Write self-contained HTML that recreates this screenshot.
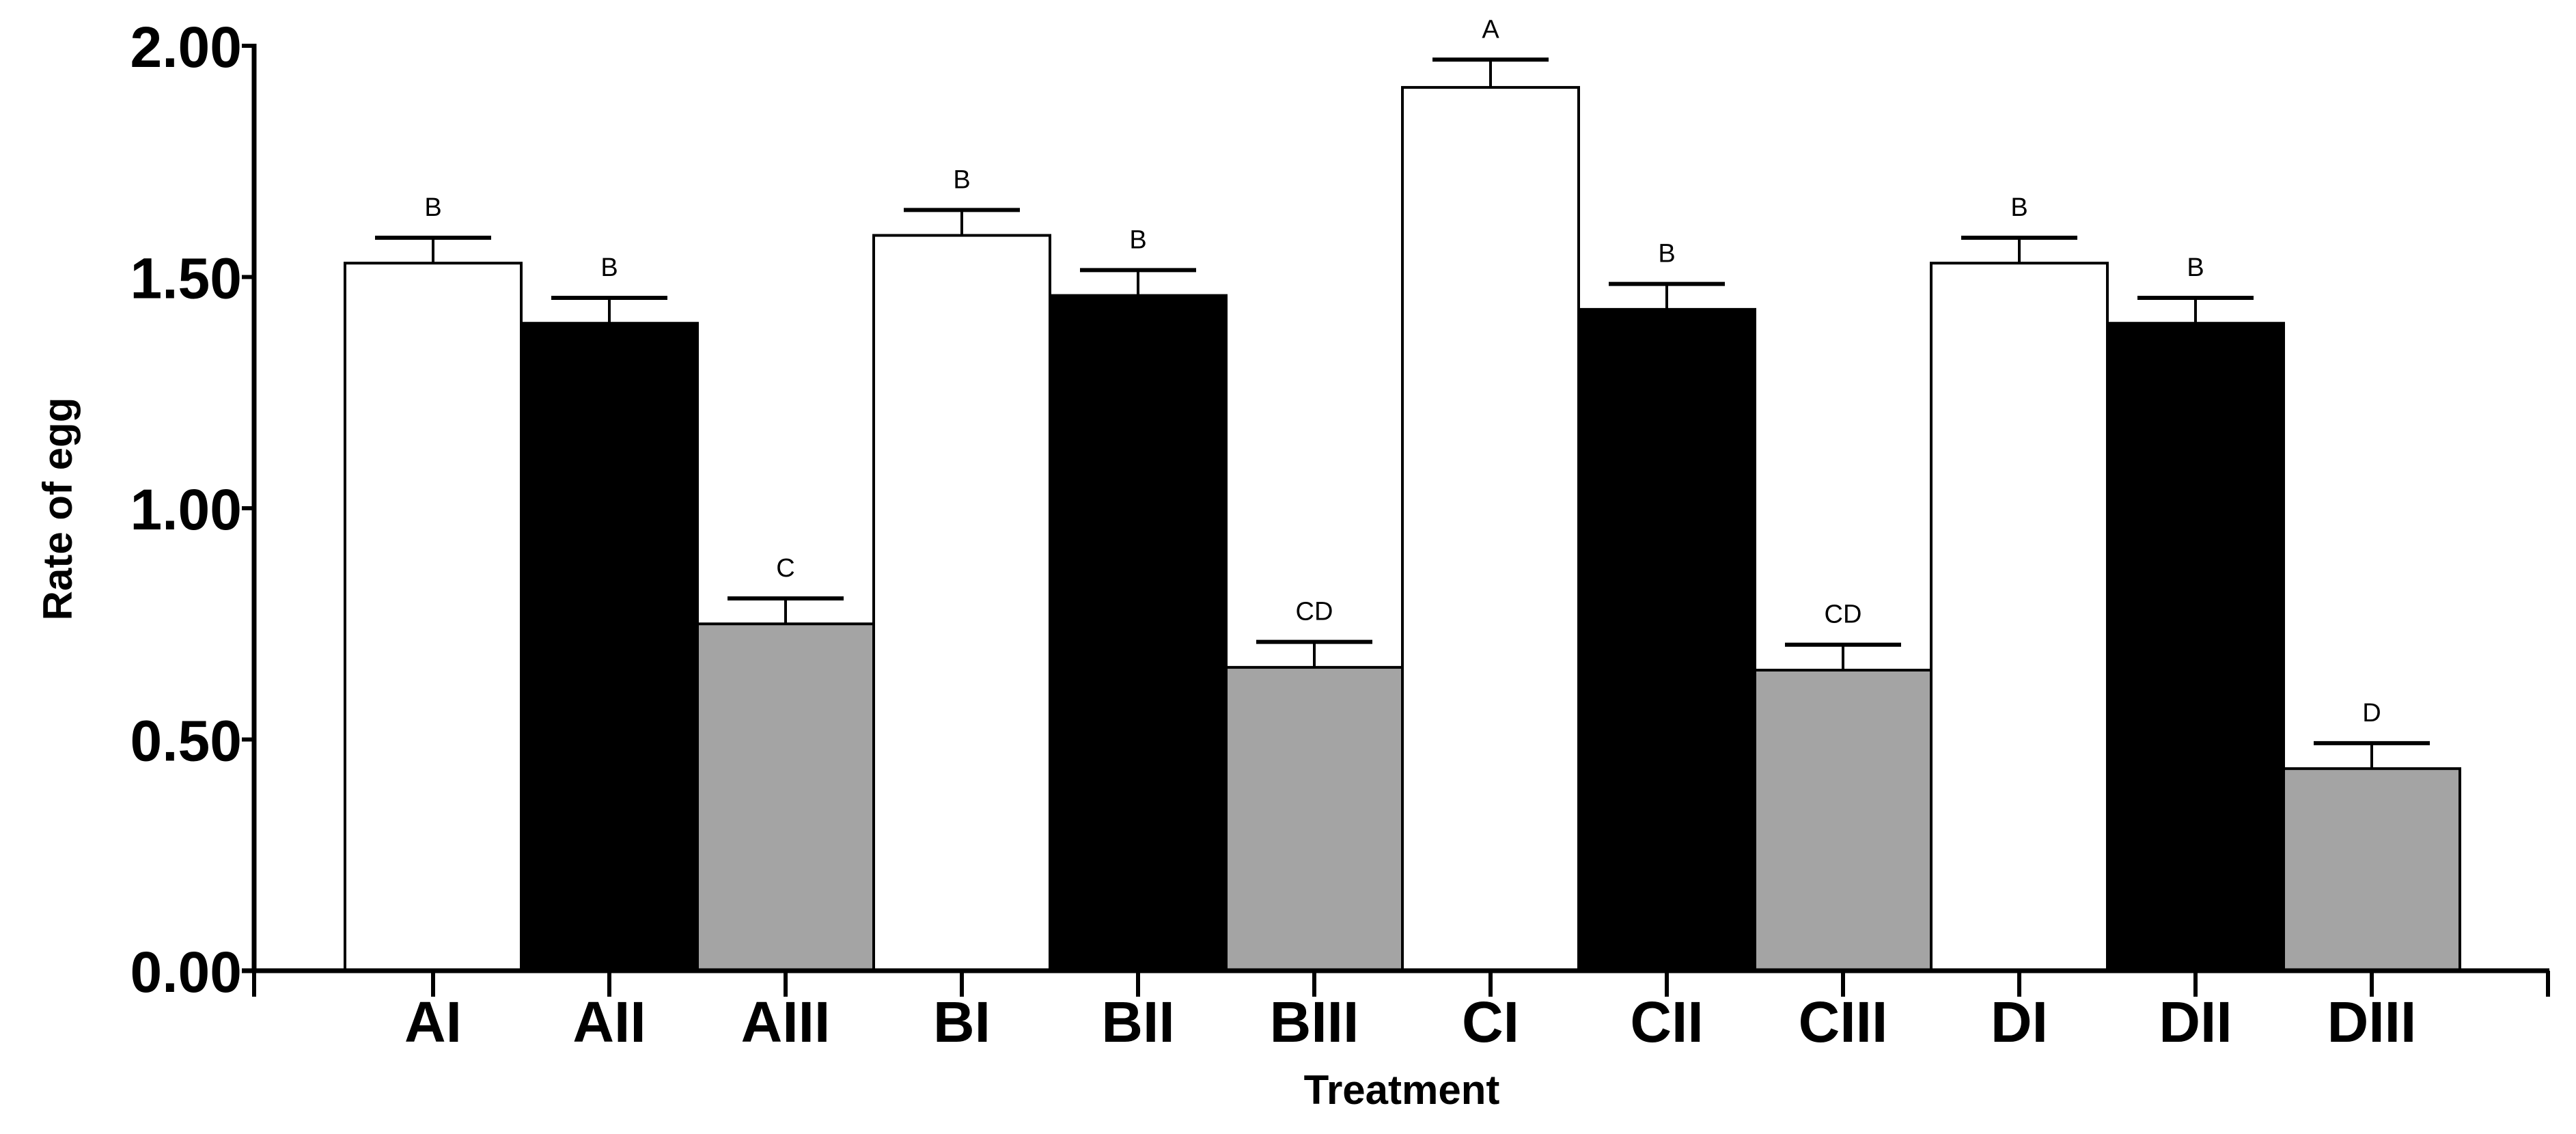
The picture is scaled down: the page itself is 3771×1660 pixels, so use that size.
<!DOCTYPE html>
<html><head><meta charset="utf-8"><style>
html,body{margin:0;padding:0;background:#fff;}
svg{display:block;font-family:"Liberation Sans",Arial,sans-serif;}
</style></head><body>
<svg id="chart" width="3771" height="1660" viewBox="0 0 3771 1660" xmlns="http://www.w3.org/2000/svg">
<g id="bars"></g>
<g id="axes"></g>
</svg>
<script>
const categories = ["AI","AII","AIII","BI","BII","BIII","CI","CII","CIII","DI","DII","DIII"];
const values = [1.53,1.40,0.75,1.59,1.46,0.656,1.91,1.43,0.65,1.53,1.40,0.437];
const errors = [0.055,0.055,0.055,0.055,0.055,0.055,0.06,0.055,0.055,0.055,0.055,0.055];
const letters = ["B","B","C","B","B","CD","A","B","CD","B","B","D"];
const fills = ["#fff","#000","#a4a4a4","#fff","#000","#a4a4a4","#fff","#000","#a4a4a4","#fff","#000","#a4a4a4"];
const yTicks = [0,0.5,1.0,1.5,2.0];
const yTickLabels = ["0.00","0.50","1.00","1.50","2.00"];

const NS="http://www.w3.org/2000/svg";
const X0=372, Y0=1421, Y2=67, firstBar=505, bw=258, xEnd=3732;
function y(v){return Y0-(Y0-Y2)*v/2;}
function xl(i){return firstBar+i*bw;}
function mk(tag,attrs,parent){const e=document.createElementNS(NS,tag);for(const k in attrs)e.setAttribute(k,attrs[k]);parent.appendChild(e);return e;}
const bars=document.getElementById('bars'), axes=document.getElementById('axes');

categories.forEach((c,i)=>{
  const top=y(values[i]);
  const r=mk('rect',{x:xl(i),y:top,width:bw,height:Y0-top,fill:fills[i],stroke:'#000','stroke-width':4},bars);
  
  
  const cx=xl(i)+bw/2, et=y(values[i]+errors[i]);
  const ev=mk('line',{x1:cx,x2:cx,y1:top,y2:et,stroke:'#000','stroke-width':4},bars);
  
  
  const ec=mk('line',{x1:cx-85,x2:cx+85,y1:et,y2:et,stroke:'#000','stroke-width':6},bars);
  
  
  const t=mk('text',{x:cx,y:et-32,'text-anchor':'middle','font-size':38},bars);
  t.textContent=letters[i];
  
  
  const tk=mk('line',{x1:cx,x2:cx,y1:Y0,y2:Y0+38,stroke:'#000','stroke-width':6},axes);
  
  
  const xl2=mk('text',{x:cx,y:1525,'text-anchor':'middle','font-size':84,'font-weight':'bold'},axes);
  xl2.textContent=c;
  
  
});

const ya=mk('line',{x1:X0,x2:X0,y1:Y2-3,y2:Y0+3,stroke:'#000','stroke-width':7},axes);


const xa=mk('line',{x1:X0-18,x2:xEnd,y1:Y0,y2:Y0,stroke:'#000','stroke-width':7},axes);


[X0,xEnd-2].forEach(xx=>{
  const e=mk('line',{x1:xx,x2:xx,y1:Y0,y2:Y0+38,stroke:'#000','stroke-width':6},axes);
  
  
});
yTicks.forEach((v,i)=>{
  const tk=mk('line',{x1:X0-18,x2:X0,y1:y(v),y2:y(v),stroke:'#000','stroke-width':6},axes);
  
  
  const t=mk('text',{x:354,y:y(v)+31,'text-anchor':'end','font-size':84,'font-weight':'bold'},axes);
  t.textContent=yTickLabels[i];
  
  
});
const xt=mk('text',{x:(X0+xEnd)/2,y:1616,'text-anchor':'middle','font-size':60,'font-weight':'bold'},axes);
xt.textContent='Treatment';


const yt=mk('text',{x:0,y:0,'text-anchor':'middle','font-size':60,'font-weight':'bold',transform:'translate(105,745) rotate(-90)'},axes);
yt.textContent='Rate of egg';


</script>
</body></html>
